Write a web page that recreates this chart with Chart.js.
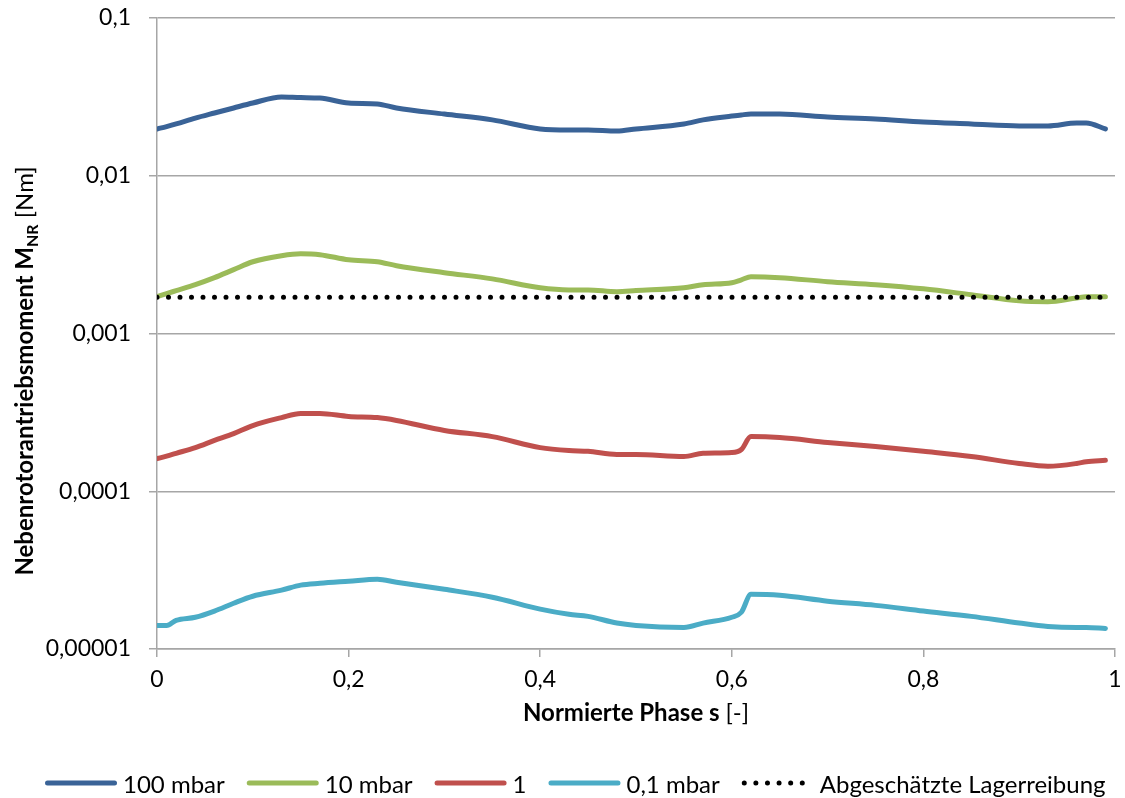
<!DOCTYPE html>
<html lang="de">
<head>
<meta charset="utf-8">
<title>Nebenrotorantriebsmoment</title>
<script src="https://cdn.jsdelivr.net/npm/chart.js@4.4.1/dist/chart.umd.min.js"></script>
<style>
  html, body { margin: 0; padding: 0; background: #fff; }
  #diagramm { display: block; }
</style>
</head>
<body>
<canvas id="diagramm" width="1125" height="798"></canvas>
<script>
const phase = [0, 0.01, 0.02, 0.04, 0.06, 0.08, 0.1, 0.13, 0.15, 0.17, 0.2, 0.23, 0.25, 0.3, 0.35, 0.4, 0.43, 0.45, 0.48, 0.5,
    0.55, 0.57, 0.6, 0.61, 0.62, 0.65, 0.7, 0.75, 0.8, 0.85, 0.9, 0.93, 0.96, 0.97, 0.99];

const moment100mbar = [0.0198, 0.0205, 0.0213, 0.0232, 0.0250, 0.0269, 0.0289, 0.0316, 0.0313, 0.0311, 0.0289, 0.0285, 0.0269,
    0.0246, 0.0226, 0.0198, 0.0195, 0.0195, 0.0192, 0.0198, 0.0213, 0.0226, 0.0239, 0.0243, 0.0246, 0.0246,
    0.0236, 0.0229, 0.0219, 0.0213, 0.0207, 0.0207, 0.0216, 0.0216, 0.0198];

const moment10mbar = [0.00171, 0.00179, 0.00187, 0.00204, 0.00226, 0.00254, 0.00285, 0.00311, 0.00320, 0.00316, 0.00293, 0.00285, 0.00269,
    0.00243, 0.00222, 0.00195, 0.00189, 0.00189, 0.00184, 0.00187, 0.00195, 0.00204, 0.00210, 0.00219, 0.00229, 0.00226,
    0.00213, 0.00204, 0.00192, 0.00176, 0.00161, 0.00159, 0.00168, 0.00171, 0.00171];

const moment1mbar = [0.000161, 0.000167, 0.000174, 0.000189, 0.000210, 0.000232, 0.000261, 0.000293, 0.000311, 0.000311, 0.000298, 0.000293, 0.000281,
    0.000243, 0.000222, 0.000189, 0.000181, 0.000179, 0.000171, 0.000171, 0.000166, 0.000174, 0.000176, 0.000184, 0.000222, 0.000219,
    0.000204, 0.000192, 0.000179, 0.000166, 0.000150, 0.000144, 0.000150, 0.000154, 0.000157];

const moment01mbar = [0.0000141, 0.0000141, 0.0000152, 0.0000159, 0.0000174, 0.0000195, 0.0000216, 0.0000236, 0.0000254, 0.0000261, 0.0000269, 0.0000277, 0.0000265,
    0.0000239, 0.0000213, 0.0000179, 0.0000166, 0.0000161, 0.0000146, 0.0000141, 0.0000137, 0.0000146, 0.0000159, 0.0000171, 0.0000222, 0.0000219,
    0.0000201, 0.0000189, 0.0000174, 0.0000161, 0.0000146, 0.0000139, 0.0000137, 0.0000137, 0.0000135];

// geschätzte Lagerreibung, konstant über die Phase
const lagerPhase = [0, 0.99];
const lagerReibung = [0.0017, 0.0017];

const xTicks = ['0', '0,2', '0,4', '0,6', '0,8', '1'];
const yTickWerte = [0.00001, 0.0001, 0.001, 0.01, 0.1];
const yTicks = ['0,00001', '0,0001', '0,001', '0,01', '0,1'];

const xTitel = [{ text: 'Normierte Phase s ', fett: true }, { text: '[-]' }];
const yTitel = [{ text: 'Nebenrotorantriebsmoment M', fett: true }, { text: 'NR', fett: true, tief: true }, { text: ' [Nm]' }];

const punkte = (xs, ys) => xs.map((x, i) => ({ x: x, y: ys[i] }));

const grau = '#a6a6a6';

function schrift(t) {
    return (t.fett ? 'bold ' : '') + (t.tief ? 16 : 24) + 'px Lato';
}

function zeichneTitel(ctx, teile, x, y) {
    let breite = 0;
    teile.forEach(t => { ctx.font = schrift(t); breite += ctx.measureText(t.text).width; });
    let pos = x - breite / 2;
    teile.forEach(t => {
        ctx.font = schrift(t);
        ctx.fillText(t.text, pos, y + (t.tief ? 5 : 0));
        pos += ctx.measureText(t.text).width;
    });
}

// Achsentitel mit fettem Teil, Index und normalem Einheitenteil
const achsenTitel = {
    id: 'achsenTitel',
    afterDraw(chart) {
        const ctx = chart.ctx;
        const bereich = chart.chartArea;
        ctx.save();
        ctx.fillStyle = '#000';
        ctx.textAlign = 'left';
        ctx.textBaseline = 'alphabetic';
        zeichneTitel(ctx, xTitel, (bereich.left + bereich.right) / 2, 721);
        ctx.translate(33, 371);
        ctx.rotate(-Math.PI / 2);
        zeichneTitel(ctx, yTitel, 0, 0);
        ctx.restore();
    }
};

// Legende unten in einer Zeile: Liniensymbol bzw. Punktreihe, danach der Name
const legende = {
    id: 'legende',
    afterDraw(chart) {
        const ctx = chart.ctx;
        const y = 783;
        let x = 45;
        ctx.save();
        ctx.font = '24px Lato';
        ctx.textAlign = 'left';
        ctx.textBaseline = 'alphabetic';
        chart.data.datasets.forEach(ds => {
            const gepunktet = !!ds.borderDash;
            ctx.strokeStyle = ds.borderColor;
            ctx.lineWidth = ds.borderWidth;
            ctx.lineCap = 'round';
            ctx.setLineDash(gepunktet ? [0, 11.6] : []);
            ctx.beginPath();
            ctx.moveTo(x + 2.5, y);
            ctx.lineTo(x + (gepunktet ? 61 : 69.5), y);
            ctx.stroke();
            x += 78;
            ctx.fillStyle = '#000';
            ctx.fillText(ds.label, x, 793);
            x += ctx.measureText(ds.label).width + 22;
        });
        ctx.restore();
    }
};

Chart.defaults.font.family = 'Lato';
Chart.defaults.font.size = 23;
Chart.defaults.color = '#000';

const linie = (label, farbe, werte) => ({
    label: label,
    data: punkte(phase, werte),
    borderColor: farbe,
    backgroundColor: farbe,
    borderWidth: 5,
    borderCapStyle: 'round',
    borderJoinStyle: 'round',
    pointRadius: 0,
    cubicInterpolationMode: 'monotone'
});

let ctx = document.getElementById('diagramm').getContext('2d');

let diagramm = new Chart(ctx, {
    type: 'line',
    data: {
        datasets: [
            linie('100 mbar', '#3a6397', moment100mbar),
            linie('10 mbar', '#9bbb59', moment10mbar),
            linie('1', '#c0504d', moment1mbar),
            linie('0,1 mbar', '#4bacc6', moment01mbar),
            {
                label: 'Abgeschätzte Lagerreibung',
                data: punkte(lagerPhase, lagerReibung),
                borderColor: '#000',
                backgroundColor: '#000',
                borderWidth: 5,
                borderDash: [0, 11.5],
                borderCapStyle: 'round',
                pointRadius: 0,
                order: -1
            }
        ]
    },
    options: {
        responsive: false,
        animation: false,
        layout: { padding: { left: 36, right: 10, top: 18, bottom: 0 } },
        plugins: {
            tooltip: { enabled: false },
            legend: { display: false }
        },
        scales: {
            x: {
                type: 'linear',
                min: 0,
                max: 1,
                ticks: {
                    stepSize: 0.2,
                    padding: 9,
                    callback: (v, i) => xTicks[i]
                },
                grid: { drawOnChartArea: false, color: grau, lineWidth: 1.5, tickLength: 8 },
                border: { color: grau, width: 1.5 },
                afterFit: s => {
                    s.height = 149;
                    s.paddingLeft = 0;
                    s.paddingRight = 0;
                }
            },
            y: {
                type: 'logarithmic',
                min: 0.00001,
                max: 0.1,
                afterBuildTicks: s => { s.ticks = yTickWerte.map(v => ({ value: v })); },
                ticks: {
                    padding: 18,
                    callback: (v, i) => yTicks[i]
                },
                grid: { color: grau, lineWidth: 1.5, tickLength: 8 },
                border: { color: grau, width: 1.5 },
                afterFit: s => {
                    s.width = 121;
                    s.paddingTop = 0;
                    s.paddingBottom = 0;
                }
            }
        }
    },
    plugins: [achsenTitel, legende]
});
</script>
</body>
</html>
